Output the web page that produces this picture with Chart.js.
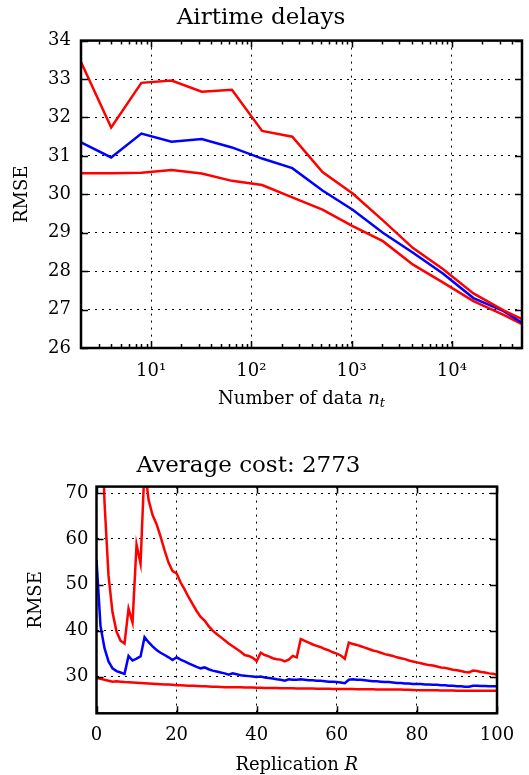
<!DOCTYPE html>
<html>
<head>
<meta charset="utf-8">
<script src="https://cdn.jsdelivr.net/npm/chart.js@4"></script>
<style>
body { margin: 0; background: #fff; }
#wrap { position: relative; width: 529px; height: 775px; }
canvas { position: absolute; left: 0; }
#top { top: 0; }
#bottom { top: 430px; }
</style>
</head>
<body>
<div id="wrap">
<canvas id="top" width="529" height="430"></canvas>
<canvas id="bottom" width="529" height="345"></canvas>
</div>
<script>
// top chart: RMSE vs number of data (log x)
var nData = [2, 4, 8, 16, 32, 64, 128, 256, 512, 1024, 2048, 4096, 8192, 16384, 32768, 50000];
var airUpper = [33.44, 31.74, 32.90, 32.96, 32.67, 32.72, 31.65, 31.50, 30.58, 30.02, 29.32, 28.60, 28.05, 27.42, 26.98, 26.75];
var airMean  = [31.35, 30.96, 31.58, 31.37, 31.44, 31.22, 30.93, 30.68, 30.10, 29.60, 29.00, 28.48, 27.93, 27.30, 26.96, 26.66];
var airLower = [30.55, 30.55, 30.56, 30.63, 30.54, 30.35, 30.24, 29.92, 29.60, 29.17, 28.78, 28.17, 27.70, 27.22, 26.86, 26.62];
var nTicks = [10, 100, 1000, 10000];
var nTickLabels = ['10¹', '10²', '10³', '10⁴'];
var airYTicks = [26, 27, 28, 29, 30, 31, 32, 33, 34];

// bottom chart: RMSE vs replication R
var replication = [];
for (var i = 0; i <= 100; i++) replication.push(i);
var repUpper = [
  140, 95, 68, 52, 44, 39.8, 37.8, 37.2, 44.8, 41.8,
  58.8, 54.6, 76, 68.5, 65.2, 63.2, 60.5, 57.5, 54.8, 53.0,
  52.5, 50.5, 49.0, 47.3, 45.8, 44.3, 43.0, 42.2, 41.0, 40.0,
  39.3, 38.6, 37.9, 37.2, 36.6, 36.0, 35.4, 34.7, 34.5, 34.1,
  33.4, 35.2, 34.7, 34.4, 34.0, 33.8, 33.7, 33.3, 33.7, 34.5,
  34.2, 38.2, 37.8, 37.4, 37.0, 36.7, 36.4, 36.0, 35.7, 35.3,
  35.0, 34.6, 33.9, 37.4, 37.1, 36.9, 36.6, 36.3, 36.0, 35.7,
  35.5, 35.2, 34.9, 34.7, 34.5, 34.2, 34.0, 33.8, 33.5, 33.3,
  33.1, 32.9, 32.7, 32.5, 32.4, 32.2, 32.0, 31.9, 31.7, 31.5,
  31.4, 31.2, 31.0, 30.9, 31.3, 31.2, 31.0, 30.9, 30.7, 30.6,
  30.4
];
var repMean = [
  55.5, 41.0, 36.2, 33.3, 31.8, 31.2, 30.9, 30.6, 34.5, 33.5,
  33.9, 34.4, 38.6, 37.5, 36.6, 35.8, 35.2, 34.7, 34.2, 33.6,
  34.2, 33.7, 33.3, 32.9, 32.5, 32.1, 31.8, 32.0, 31.6, 31.3,
  31.1, 30.9, 30.7, 30.4, 30.7, 30.5, 30.3, 30.2, 30.1, 30.0,
  29.9, 30.0, 29.8, 29.7, 29.6, 29.4, 29.3, 29.1, 29.4, 29.3,
  29.3, 29.4, 29.3, 29.2, 29.2, 29.1, 29.1, 29.0, 28.9, 28.9,
  28.8, 28.7, 28.55, 29.3, 29.4, 29.3, 29.3, 29.2, 29.1, 29.0,
  29.0, 28.9, 28.8, 28.8, 28.7, 28.6, 28.6, 28.5, 28.5, 28.4,
  28.4, 28.4, 28.3, 28.3, 28.2, 28.2, 28.1, 28.1, 28.0, 28.0,
  27.9, 27.9, 27.8, 27.8, 28.0, 28.0, 27.95, 27.95, 27.9, 27.9,
  27.9
];
var repLower = [
  29.7, 29.5, 29.3, 29.1, 28.9, 29.0, 28.9, 28.8, 28.75, 28.7,
  28.65, 28.6, 28.55, 28.5, 28.45, 28.4, 28.35, 28.3, 28.25, 28.2,
  28.1, 28.1, 28.05, 28.0, 28.0, 27.95, 27.9, 27.9, 27.85, 27.8,
  27.8, 27.75, 27.7, 27.7, 27.7, 27.65, 27.65, 27.6, 27.6, 27.6,
  27.55, 27.55, 27.5, 27.5, 27.5, 27.5, 27.45, 27.45, 27.45, 27.45,
  27.4, 27.4, 27.4, 27.4, 27.4, 27.35, 27.35, 27.35, 27.35, 27.3,
  27.3, 27.3, 27.3, 27.3, 27.3, 27.25, 27.25, 27.25, 27.25, 27.25,
  27.2, 27.2, 27.2, 27.2, 27.2, 27.2, 27.2, 27.15, 27.15, 27.1,
  27.05, 27.0, 27.0, 27.0, 27.0, 27.0, 26.95, 26.95, 26.95, 26.95,
  26.9, 26.9, 26.9, 26.9, 26.9, 26.9, 26.9, 26.9, 26.9, 26.9,
  26.9
];
var repXTicks = [0, 20, 40, 60, 80, 100];
var repYTicks = [30, 40, 50, 60, 70];

var FONT = '"DejaVu Serif", serif';
Chart.defaults.font.family = FONT;
Chart.defaults.color = '#000';

// inward tick marks, thick frame and x-axis title with italic parts
var frameTicks = {
  id: 'frameTicks',
  afterDatasetsDraw: function (chart, args, opts) {
    var ctx = chart.ctx, a = chart.chartArea;
    var xs = chart.scales.x, ys = chart.scales.y;
    ctx.save();
    ctx.strokeStyle = '#000';
    ctx.beginPath();
    function xt(v, len) {
      var px = Math.round(xs.getPixelForValue(v)) + 0.5;
      ctx.moveTo(px, a.bottom); ctx.lineTo(px, a.bottom - len);
      ctx.moveTo(px, a.top); ctx.lineTo(px, a.top + len);
    }
    function yt(v, len) {
      var py = Math.round(ys.getPixelForValue(v)) + 0.5;
      ctx.moveTo(a.left, py); ctx.lineTo(a.left + len, py);
      ctx.moveTo(a.right, py); ctx.lineTo(a.right - len, py);
    }
    opts.xMajor.forEach(function (v) { xt(v, 7); });
    if (opts.logMinor) {
      for (var d = 1; d <= 100000; d *= 10) {
        for (var m = 2; m <= 9; m++) {
          var v = m * d;
          if (v > xs.min && v < xs.max) xt(v, 4);
        }
      }
    }
    opts.yMajor.forEach(function (v) { yt(v, 7); });
    ctx.lineWidth = 1.5;
    ctx.stroke();
    ctx.lineWidth = 2.5;
    ctx.strokeRect(a.left, a.top, a.width, a.height);

    // x title
    var parts = opts.xTitle;
    var widths = parts.map(function (p) {
      ctx.font = (p.italic ? 'italic ' : '') + (p.sub ? 13 : 18) + 'px ' + FONT;
      return ctx.measureText(p.text).width;
    });
    var total = widths.reduce(function (s, w) { return s + w; }, 0);
    var x = (a.left + a.right) / 2 - total / 2;
    var y = a.bottom + opts.titleGap;
    ctx.fillStyle = '#000';
    ctx.textBaseline = 'middle';
    ctx.textAlign = 'left';
    parts.forEach(function (p, i) {
      ctx.font = (p.italic ? 'italic ' : '') + (p.sub ? 13 : 18) + 'px ' + FONT;
      ctx.fillText(p.text, x, y + (p.sub ? 5 : 0));
      x += widths[i];
    });
    ctx.restore();
  }
};

function lineSet(data, color) {
  return {
    data: data,
    borderColor: color,
    borderWidth: 2.5,
    pointRadius: 0,
    tension: 0,
    fill: false
  };
}

var gridOpts = { color: '#000', lineWidth: 1, drawTicks: false, tickLength: 0 };
var borderOpts = { display: false, dash: [2, 5] };

new Chart(document.getElementById('top'), {
  type: 'line',
  data: {
    labels: nData,
    datasets: [
      lineSet(airUpper, '#ff0000'),
      lineSet(airMean, '#0000ff'),
      lineSet(airLower, '#ff0000')
    ]
  },
  options: {
    responsive: false,
    animation: false,
    devicePixelRatio: 1,
    layout: { padding: { left: 0, right: 7, top: 0, bottom: 0 } },
    plugins: {
      legend: { display: false },
      tooltip: { enabled: false },
      title: {
        display: true,
        text: 'Airtime delays',
        font: { size: 23, weight: 'normal' },
        color: '#000',
        padding: { top: 4, bottom: 9 }
      },
      frameTicks: {
        xMajor: nTicks,
        logMinor: true,
        yMajor: airYTicks,
        titleGap: 51,
        xTitle: [
          { text: 'Number of data ' },
          { text: 'n', italic: true },
          { text: 't', italic: true, sub: true }
        ]
      }
    },
    scales: {
      x: {
        type: 'logarithmic',
        min: 2,
        max: 50000,
        grid: gridOpts,
        border: borderOpts,
        afterBuildTicks: function (scale) {
          scale.ticks = nTicks.map(function (v) { return { value: v }; });
        },
        afterFit: function (scale) { scale.height = 82; },
        ticks: {
          autoSkip: false,
          maxRotation: 0,
          padding: 13,
          font: { size: 18 },
          color: '#000',
          callback: function (value, index) { return nTickLabels[index]; }
        }
      },
      y: {
        min: 26,
        max: 34,
        grid: gridOpts,
        border: borderOpts,
        afterBuildTicks: function (scale) {
          scale.ticks = airYTicks.map(function (v) { return { value: v }; });
        },
        afterFit: function (scale) { scale.width = 81; },
        title: {
          display: true,
          text: 'RMSE',
          font: { size: 18 },
          color: '#000',
          padding: { top: 12, bottom: 0 }
        },
        ticks: { padding: 10, font: { size: 18 }, color: '#000' }
      }
    }
  },
  plugins: [frameTicks]
});

new Chart(document.getElementById('bottom'), {
  type: 'line',
  data: {
    labels: replication,
    datasets: [
      lineSet(repUpper, '#ff0000'),
      lineSet(repMean, '#0000ff'),
      lineSet(repLower, '#ff0000')
    ]
  },
  options: {
    responsive: false,
    animation: false,
    devicePixelRatio: 1,
    layout: { padding: { left: 0, right: 32, top: 0, bottom: 0 } },
    plugins: {
      legend: { display: false },
      tooltip: { enabled: false },
      title: {
        display: true,
        text: 'Average cost: 2773',
        font: { size: 23, weight: 'normal' },
        color: '#000',
        padding: { top: 22, bottom: 7 }
      },
      frameTicks: {
        xMajor: repXTicks,
        logMinor: false,
        yMajor: repYTicks,
        titleGap: 52,
        xTitle: [
          { text: 'Replication ' },
          { text: 'R', italic: true }
        ]
      }
    },
    scales: {
      x: {
        type: 'linear',
        min: 0,
        max: 100,
        grid: gridOpts,
        border: borderOpts,
        afterBuildTicks: function (scale) {
          scale.ticks = repXTicks.map(function (v) { return { value: v }; });
        },
        afterFit: function (scale) { scale.height = 61.7; },
        ticks: { autoSkip: false, maxRotation: 0, padding: 11, font: { size: 18 }, color: '#000' }
      },
      y: {
        min: 22,
        max: 71.4,
        grid: gridOpts,
        border: borderOpts,
        afterBuildTicks: function (scale) {
          scale.ticks = repYTicks.map(function (v) { return { value: v }; });
        },
        afterFit: function (scale) { scale.width = 96.5; },
        title: {
          display: true,
          text: 'RMSE',
          font: { size: 18 },
          color: '#000',
          padding: { top: 26, bottom: 0 }
        },
        ticks: { padding: 8, font: { size: 18 }, color: '#000' }
      }
    }
  },
  plugins: [frameTicks]
});
</script>
</body>
</html>
